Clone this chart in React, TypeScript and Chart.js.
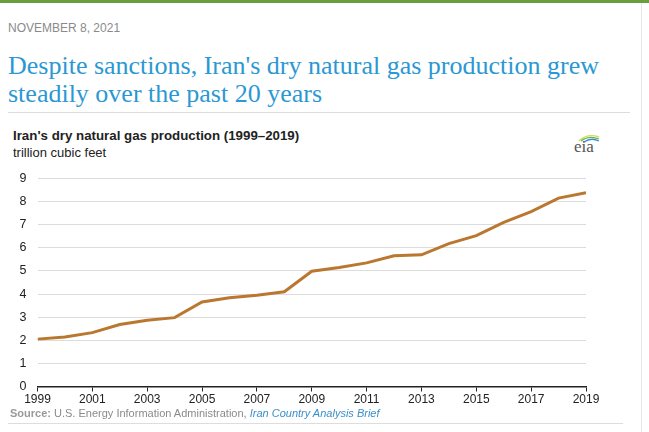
import React, { useEffect, useRef } from "react";
import { Chart, registerables } from "chart.js";

Chart.register(...registerables);

const years = [1999, 2000, 2001, 2002, 2003, 2004, 2005, 2006, 2007, 2008, 2009, 2010, 2011, 2012, 2013, 2014, 2015, 2016, 2017, 2018, 2019];
const production = [2.05, 2.14, 2.33, 2.68, 2.87, 2.98, 3.66, 3.84, 3.95, 4.1, 4.99, 5.15, 5.35, 5.66, 5.7, 6.18, 6.53, 7.1, 7.57, 8.15, 8.38];
const yTicks = [0, 1, 2, 3, 4, 5, 6, 7, 8, 9];
const xTicks = [1999, 2001, 2003, 2005, 2007, 2009, 2011, 2013, 2015, 2017, 2019];

const dateText = "NOVEMBER 8, 2021";
const headline = "Despite sanctions, Iran's dry natural gas production grew steadily over the past 20 years";
const chartTitle = "Iran's dry natural gas production (1999\u20132019)";
const unitText = "trillion cubic feet";

function LineChart() {
  const ref = useRef<HTMLCanvasElement | null>(null);
  useEffect(() => {
    if (!ref.current) return;
    const chart = new Chart(ref.current, {
      type: "line",
      data: {
        datasets: [
          {
            data: years.map((y, i) => ({ x: y, y: production[i] })),
            borderColor: "#ba772f",
            borderWidth: 3,
            pointRadius: 0,
            tension: 0,
            fill: false,
          },
        ],
      },
      options: {
        animation: false,
        responsive: false,
        maintainAspectRatio: false,
        layout: { padding: { top: 12, right: 34, left: 0, bottom: 0 } },
        plugins: { legend: { display: false }, tooltip: { enabled: false } },
        scales: {
          x: {
            type: "linear",
            min: 1999,
            max: 2019,
            afterBuildTicks: (s: any) => {
              s.ticks = xTicks.map((v) => ({ value: v }));
            },
            afterFit: (s: any) => {
              s.height = 33.5;
            },
            ticks: {
              callback: (v: any) => String(v),
              color: "#222",
              font: { family: "Liberation Sans, Arial", size: 12 },
              padding: 1,
              maxRotation: 0,
              autoSkip: false,
            },
            grid: { drawOnChartArea: false, drawTicks: true, tickLength: 5, color: "#222", lineWidth: 1 },
            border: { display: true, color: "#222", width: 1.5 },
          },
          y: {
            min: 0,
            max: 9,
            afterBuildTicks: (s: any) => {
              s.ticks = yTicks.map((v) => ({ value: v }));
            },
            afterFit: (s: any) => {
              s.width = 37.5;
            },
            ticks: {
              color: "#222",
              font: { family: "Liberation Sans, Arial", size: 12.5 },
              padding: 11,
            },
            grid: {
              color: (ctx: any) => (ctx.tick && ctx.tick.value === 0 ? "rgba(0,0,0,0)" : "#dcdcdc"),
              drawTicks: false,
              lineWidth: 1,
            },
            border: { display: false },
          },
        },
      },
    });
    return () => chart.destroy();
  }, []);
  return <canvas ref={ref} width={620} height={260} style={{ position: "absolute", left: 0, top: 160, width: 620, height: 260 }} />;
}

function EiaLogo() {
  return (
    <div style={{ position: "absolute", left: 572, top: 131, width: 30, height: 24 }}>
      <svg width="30" height="12" style={{ position: "absolute", left: 0, top: 0 }}>
        <path d="M7 10 Q15 2 27 6" stroke="#d2dc55" strokeWidth="1.4" fill="none" />
        <path d="M9 10 Q17 4 27 8" stroke="#6ab35a" strokeWidth="1.3" fill="none" />
        <path d="M12 11 Q19 6 27 10" stroke="#3d8fc9" strokeWidth="1.3" fill="none" />
      </svg>
      <div style={{ position: "absolute", left: 2, top: 7, fontFamily: "Liberation Serif, serif", fontSize: 17, color: "#555", lineHeight: "18px" }}>eia</div>
    </div>
  );
}

export default function App() {
  return (
    <div style={{ position: "absolute", left: 0, top: 0, width: 649, height: 432, background: "#fff", overflow: "hidden", fontFamily: "Liberation Sans, Arial, sans-serif" }}>
      <div style={{ position: "absolute", left: 0, top: 0, width: 649, height: 3, background: "#6a9e3c" }} />
      <div style={{ position: "absolute", left: 641, top: 3, width: 1, height: 429, background: "#e6e6e6" }} />
      <div style={{ position: "absolute", left: 8, top: 21, fontSize: 12, color: "#8a8a8a", lineHeight: "14px" }}>{dateText}</div>
      <div style={{ position: "absolute", left: 8, top: 52, width: 625, fontFamily: "Liberation Serif, serif", fontSize: 26, color: "#2b98d3", lineHeight: "28px" }}>{headline}</div>
      <div style={{ position: "absolute", left: 8, top: 112, width: 622, height: 1, background: "#dddddd" }} />
      <div style={{ position: "absolute", left: 13, top: 128, fontSize: 13.3, fontWeight: "bold", color: "#222", lineHeight: "16px" }}>{chartTitle}</div>
      <div style={{ position: "absolute", left: 13, top: 145, fontSize: 13, color: "#222", lineHeight: "16px" }}>{unitText}</div>
      <EiaLogo />
      <LineChart />
      <div style={{ position: "absolute", left: 10, top: 406, fontSize: 11, color: "#8a8a8a", lineHeight: "14px", whiteSpace: "nowrap" }}>
        <span style={{ fontWeight: "bold", color: "#9a9a9a" }}>Source:</span> U.S. Energy Information Administration,{" "}
        <span style={{ fontStyle: "italic", color: "#3a8fc8" }}>Iran Country Analysis Brief</span>
      </div>
      <div style={{ position: "absolute", left: 8, top: 423, width: 615, height: 1, background: "#dddddd" }} />
    </div>
  );
}
